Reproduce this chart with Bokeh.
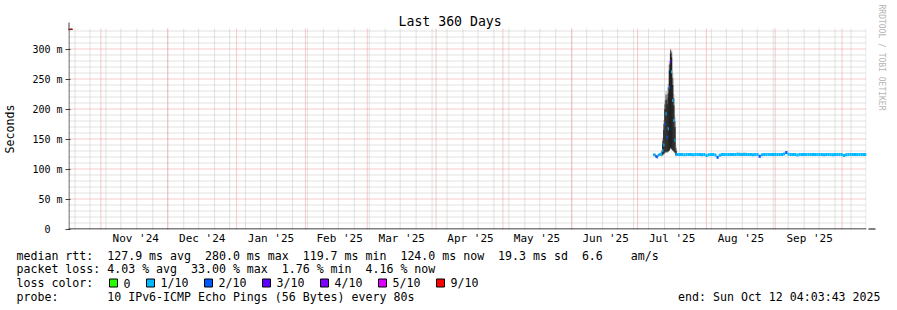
import math
import pandas as pd
from bokeh.plotting import figure
from bokeh.layouts import column
from bokeh.models import (Range1d, FixedTicker, Arrow, NormalHead, Title, Span,
                          ColumnDataSource)
from bokeh.core.properties import value
from bokeh.embed import file_html
from bokeh.resources import INLINE

# ---------------- data ----------------
GRAPH_START = "2024-10-17 04:03:43"
GRAPH_END = "2025-10-12 04:03:43"

month_starts = ["2024-11-01", "2024-12-01", "2025-01-01", "2025-02-01", "2025-03-01",
                "2025-04-01", "2025-05-01", "2025-06-01", "2025-07-01", "2025-08-01",
                "2025-09-01", "2025-10-01"]
month_labels = ["Nov '24", "Dec '24", "Jan '25", "Feb '25", "Mar '25", "Apr '25",
                "May '25", "Jun '25", "Jul '25", "Aug '25", "Sep '25"]

y_ticks = [0, 50, 100, 150, 200, 250, 300]
y_tick_labels = ["0\u00a0\u00a0", "50 m", "100 m", "150 m", "200 m", "250 m", "300 m"]

# 12-hour bins around the July spike (values in ms)
spike_times = ["2025-07-08 00:00", "2025-07-08 12:00", "2025-07-09 00:00", "2025-07-09 12:00",
               "2025-07-10 00:00", "2025-07-10 12:00", "2025-07-11 00:00", "2025-07-11 12:00",
               "2025-07-12 00:00", "2025-07-12 12:00", "2025-07-13 00:00", "2025-07-13 12:00",
               "2025-07-14 00:00", "2025-07-14 12:00", "2025-07-15 00:00", "2025-07-15 12:00",
               "2025-07-16 00:00", "2025-07-16 12:00", "2025-07-17 00:00", "2025-07-17 12:00",
               "2025-07-18 00:00"]
spike_median = [123.6, 123.4, 121.0, 119.9, 122.8, 124.0, 124.6, 126.0, 131.0, 140.0, 175.0,
                192.0, 153.0, 167.0, 236.0, 279.0, 262.0, 214.0, 181.0, 148.0, 124.5]
spike_loss = [1, 1, 2, 2, 1, 1, 1, 1, 1, 1, 2, 1, 2, 1, 2, 3, 1, 1, 1, 1, 1]
spike_outer_lo = [122.0, 122.0, 119.5, 118.5, 121.5, 122.5, 122.5, 121.0, 122.0, 124.0, 126.0,
                  127.0, 127.0, 128.0, 130.0, 133.0, 132.0, 130.0, 128.0, 126.0, 122.0]
spike_outer_hi = [125.5, 125.5, 123.0, 122.0, 125.0, 126.0, 127.0, 132.0, 152.0, 182.0, 214.0,
                  230.0, 224.0, 242.0, 280.0, 301.0, 298.0, 260.0, 225.0, 188.0, 138.0]
spike_mid_lo = [122.8, 122.6, 120.2, 119.2, 122.0, 123.2, 123.5, 122.0, 123.0, 125.0, 127.0,
                128.0, 128.0, 129.0, 131.0, 134.0, 133.0, 131.0, 129.0, 127.0, 122.5]
spike_mid_hi = [124.5, 124.3, 122.0, 120.8, 123.8, 125.0, 125.6, 129.0, 147.0, 175.0, 208.0,
                224.0, 218.0, 236.0, 274.0, 298.0, 294.0, 252.0, 218.0, 180.0, 134.0]
spike_core_lo = [123.2, 123.0, 120.6, 119.6, 122.4, 123.6, 124.0, 123.5, 124.0, 126.0, 128.0,
                 129.0, 129.0, 130.0, 132.0, 136.0, 134.0, 132.0, 130.0, 128.0, 123.0]
spike_core_hi = [124.0, 123.8, 121.4, 120.3, 123.2, 124.4, 125.2, 127.5, 141.0, 165.0, 200.0,
                 215.0, 208.0, 226.0, 264.0, 292.0, 286.0, 240.0, 206.0, 170.0, 130.0]

# daily bins after the spike
daily_start = "2025-07-18 12:00"
daily_median = [124.3, 124.0, 124.1, 123.9, 124.0, 124.2, 124.0, 123.8, 124.0, 124.1,
                124.0, 123.9, 124.0, 122.6, 123.8, 124.0, 124.1, 123.2, 119.7, 122.8,
                124.0, 124.1, 124.2, 124.0, 124.3, 124.2, 124.0, 124.4, 124.3, 124.2,
                124.1, 124.0, 124.2, 124.0, 123.9, 124.1, 124.0, 121.3, 123.6, 124.0,
                124.1, 124.0, 124.2, 124.0, 124.1, 124.0, 124.1, 124.2, 125.0, 127.3,
                124.5, 124.0, 124.1, 124.0, 123.2, 124.0, 124.1, 124.0, 124.2, 124.1,
                124.0, 124.1, 124.0, 124.2, 124.1, 124.0, 123.9, 124.0, 124.1, 124.0,
                123.7, 124.0, 124.1, 124.0, 124.0, 122.3, 123.9, 124.0, 124.1, 124.0,
                124.1, 124.0, 124.2, 124.0, 124.1, 124.0]
daily_loss = [1, 1, 1, 1, 1, 1, 1, 1, 1, 1,
              1, 1, 1, 1, 1, 1, 1, 1, 2, 1,
              1, 1, 1, 1, 1, 1, 1, 1, 1, 1,
              1, 1, 1, 1, 1, 1, 1, 2, 1, 1,
              1, 1, 1, 1, 1, 1, 1, 1, 1, 2,
              1, 1, 1, 1, 1, 1, 1, 1, 1, 1,
              1, 1, 1, 1, 1, 1, 1, 1, 1, 1,
              1, 1, 1, 1, 1, 1, 1, 1, 1, 1,
              1, 1, 1, 1, 1, 1]

# visible smoke above the median in the flat part
flat_smoke_times = ["2025-08-14 12:00", "2025-08-15 12:00", "2025-08-16 12:00",
                    "2025-08-17 12:00", "2025-08-18 12:00", "2025-08-19 12:00"]
flat_smoke_lo = [122.0, 122.0, 122.0, 122.0, 122.0, 122.0]
flat_smoke_hi = [127.0, 127.6, 127.2, 127.8, 127.0, 126.8]

loss_colors = ["#26ff00", "#00b8ff", "#0059ff", "#5e00ff", "#7e00ff", "#dd00ff", "#ff0000"]
loss_labels = ["0", "1/10", "2/10", "3/10", "4/10", "5/10", "9/10"]

stats_rtt = [("median rtt:", 0), ("127.9 ms avg", 13), ("280.0 ms max", 27),
             ("119.7 ms min", 41), ("124.0 ms now", 55), ("19.3 ms sd", 69),
             ("6.6", 81), ("am/s", 88)]
stats_loss = [("packet loss:", 0), ("4.03 % avg", 13), ("33.00 % max", 25),
              ("1.76 % min", 38), ("4.16 % now", 50)]
probe_text = "10 IPv6-ICMP Echo Pings (56 Bytes) every 80s"
end_text = "end: Sun Oct 12 04:03:43 2025"
title_text = "Last 360 Days"
watermark = "RRDTOOL / TOBI OETIKER"

# ---------------- styling / layout ----------------
FONT = "DejaVu Sans Mono"
W = 897
H_TOP = 248          # chart part
H_LEG = 62           # legend part
L, T, R, BOT = 66, 28, 31, 19
FW = W - L - R       # frame width, px
FH = H_TOP - T - BOT  # frame height, px
PX_PER_MS = 0.6      # vertical scale, px per ms of rtt
Y0 = -0.5 / PX_PER_MS
Y1 = Y0 + FH / PX_PER_MS
BAND = 2.5           # half-height of the median band (ms)
GRID_MAJOR = "#ef9494"
GRID_MINOR = "#c4c4c4"
AXIS_Y = "#404040"
HEAD = "#8b1a1a"

T0 = pd.Timestamp(GRAPH_START)
T1 = pd.Timestamp(GRAPH_END)


def ms(t):
    return pd.Timestamp(t).value // 10**6


def snap(t):
    """put a grid line time onto a pixel centre, like rrdtool does"""
    px = (pd.Timestamp(t) - T0) / (T1 - T0) * FW
    return T0 + (math.floor(px) + 0.5) / FW * (T1 - T0)


def no_align(fig):
    if "frame_align" in fig.properties():
        fig.frame_align = False


p = figure(width=W, height=H_TOP, x_axis_type="datetime",
           x_range=Range1d(T0, T1), y_range=Range1d(Y0, Y1),
           output_backend="svg", toolbar_location=None,
           min_border_left=L, min_border_right=R, min_border_top=T,
           min_border_bottom=BOT, background_fill_color="white",
           border_fill_color="white", outline_line_color=None)
no_align(p)

p.title = Title(text=title_text, align="left", offset=330, standoff=0,
                text_font=FONT, text_font_size="13.2px", text_font_style="normal",
                text_color="black")
p.add_layout(Title(text=watermark, align="left", offset=-24, standoff=19,
                   vertical_align="middle",
                   text_font=FONT, text_font_size="8px", text_font_style="normal",
                   text_color="#b4b4b4"), "right")

# y axis
p.yaxis.ticker = FixedTicker(ticks=y_ticks, minor_ticks=[])
p.yaxis.major_label_overrides = dict(zip(y_ticks, y_tick_labels))
p.yaxis.major_label_text_font = FONT
p.yaxis.major_label_text_font_size = "10px"
p.yaxis.major_label_text_color = "black"
p.yaxis.axis_line_color = None
p.yaxis.major_tick_line_color = AXIS_Y
p.yaxis.major_tick_out = 3
p.yaxis.major_tick_in = 2
p.yaxis.minor_tick_line_color = None
p.yaxis.minor_tick_out = 0
p.yaxis.major_label_standoff = 3
p.yaxis.axis_label = "Seconds"
p.yaxis.axis_label_text_font = FONT
p.yaxis.axis_label_text_font_size = "11.6px"
p.yaxis.axis_label_text_font_style = "normal"
p.yaxis.axis_label_text_color = "black"
p.yaxis.axis_label_standoff = 12

# x axis: labels mid-month
label_pos = [ms(pd.Timestamp(m) + pd.Timedelta(hours=372)) for m in month_starts[:-1]]
p.xaxis.ticker = FixedTicker(ticks=label_pos, minor_ticks=[])
p.xaxis.major_label_overrides = dict(zip(label_pos, month_labels))
p.xaxis.major_label_text_font = FONT
p.xaxis.major_label_text_font_size = "11px"
p.xaxis.major_label_text_color = "black"
p.xaxis.axis_line_color = None
p.xaxis.major_tick_line_color = None
p.xaxis.minor_tick_line_color = None
p.xaxis.major_tick_out = 0
p.xaxis.major_tick_in = 0
p.xaxis.minor_tick_out = 0
p.xaxis.major_label_standoff = 2
p.xgrid.visible = False
p.ygrid.visible = False

# ---------------- grid (dotted, pixel aligned) ----------------
weeks = [snap(t) for t in pd.date_range("2024-10-20", GRAPH_END, freq="W-SUN")]
months = [snap(m) for m in month_starts]
minor_y = [v for v in range(10, 331, 10) if v % 50 != 0]
major_y = [v for v in y_ticks if v > 0]

p.segment(x0=weeks, x1=weeks, y0=[Y0] * len(weeks), y1=[Y1] * len(weeks),
          line_color=GRID_MINOR, line_dash="1 1", line_width=1)
p.segment(x0=[T0] * len(minor_y), x1=[T1] * len(minor_y), y0=minor_y, y1=minor_y,
          line_color=GRID_MINOR, line_dash="1 1", line_width=1)
p.segment(x0=months, x1=months, y0=[Y0] * len(months), y1=[Y1] * len(months),
          line_color=GRID_MAJOR, line_dash="1 1", line_width=1)
p.segment(x0=[T0] * len(major_y), x1=[T1] * len(major_y), y0=major_y, y1=major_y,
          line_color=GRID_MAJOR, line_dash="1 1", line_width=1)

# ---------------- data glyphs ----------------
t_spike = pd.to_datetime(spike_times)
t_daily = pd.date_range(daily_start, periods=len(daily_median), freq="D")
t_all = t_spike.append(t_daily)
t_right = list(t_all[1:]) + [T1]
n_sp = len(spike_times)

smoke = ColumnDataSource(dict(
    left=list(t_spike), right=t_right[:n_sp],
    olo=spike_outer_lo, ohi=spike_outer_hi,
    mlo=spike_mid_lo, mhi=spike_mid_hi,
    clo=spike_core_lo, chi=spike_core_hi))
p.quad(left="left", right="right", bottom="olo", top="ohi", source=smoke,
       fill_color="#b8b8b8", line_color=None)
p.quad(left="left", right="right", bottom="mlo", top="mhi", source=smoke,
       fill_color="#5a5a5a", line_color=None)
p.quad(left="left", right="right", bottom="clo", top="chi", source=smoke,
       fill_color="#202020", line_color=None)

fs_t = pd.to_datetime(flat_smoke_times)
p.quad(left=list(fs_t), right=list(fs_t + pd.Timedelta(days=1)),
       bottom=flat_smoke_lo, top=flat_smoke_hi, fill_color="#cacaca", line_color=None)

med = spike_median + daily_median
loss = spike_loss + daily_loss
band = ColumnDataSource(dict(
    left=list(t_all), right=t_right,
    bottom=[m - BAND for m in med], top=[m + BAND for m in med],
    color=[loss_colors[i] for i in loss]))
p.quad(left="left", right="right", bottom="bottom", top="top", source=band,
       fill_color="color", line_color=None)

# ---------------- axis lines and arrow heads ----------------
p.add_layout(Span(location=0.5, location_units="screen", dimension="width",
                  line_color="black", line_width=1))
p.add_layout(Span(location=0.5, location_units="screen", dimension="height",
                  line_color=AXIS_Y, line_width=1))
p.add_layout(Arrow(x_start=799, y_start=0.5, x_end=807, y_end=0.5,
                   start_units="screen", end_units="screen", line_color="black",
                   line_width=1,
                   end=NormalHead(size=7, fill_color=HEAD, line_color=HEAD)))
p.add_layout(Arrow(x_start=0.5, y_start=199, x_end=0.5, y_end=207,
                   start_units="screen", end_units="screen", line_color=AXIS_Y,
                   line_width=1,
                   end=NormalHead(size=7, fill_color=HEAD, line_color=HEAD)))

# ---------------- legend part (canvas-pixel coordinates) ----------------
q = figure(frame_width=W, frame_height=H_LEG, x_range=Range1d(0, W),
           y_range=Range1d(H_TOP + H_LEG, H_TOP),
           output_backend="svg", toolbar_location=None, min_border=0,
           min_border_left=0, min_border_right=0, min_border_top=0, min_border_bottom=0,
           x_axis_location=None, y_axis_location=None, background_fill_color="white",
           border_fill_color="white", outline_line_color=None)
no_align(q)
q.xgrid.visible = False
q.ygrid.visible = False

CW = 6.98
X0 = 16
rows = [255, 268.5, 282.5, 296.5]
box_x = [109, 146, 204, 262, 320, 378, 436]

tx, ty, tt = [], [], []
for txt, col in stats_rtt:
    tx.append(X0 + CW * col); ty.append(rows[0]); tt.append(txt)
for txt, col in stats_loss:
    tx.append(X0 + CW * col); ty.append(rows[1]); tt.append(txt)
tx.append(X0); ty.append(rows[2]); tt.append("loss color:")
for bx, lab in zip(box_x, loss_labels):
    tx.append(bx + 14); ty.append(rows[2]); tt.append(lab)
tx.append(X0); ty.append(rows[3]); tt.append("probe:")
tx.append(X0 + CW * 13); ty.append(rows[3]); tt.append(probe_text)

q.text(x=tx, y=ty, text=tt, text_font=value(FONT), text_font_size=value("11.6px"),
       text_baseline="middle", text_align="left", text_color="black")
q.text(x=[880], y=[rows[3]], text=[end_text], text_font=value(FONT),
       text_font_size=value("11.6px"), text_baseline="middle", text_align="right",
       text_color="black")
q.quad(left=box_x, right=[b + 8 for b in box_x], top=[rows[2] - 4] * len(box_x),
       bottom=[rows[2] + 4] * len(box_x), fill_color=loss_colors, line_color="black",
       line_width=1)

open("out.html", "w").write(file_html(column(p, q, spacing=0), INLINE))
